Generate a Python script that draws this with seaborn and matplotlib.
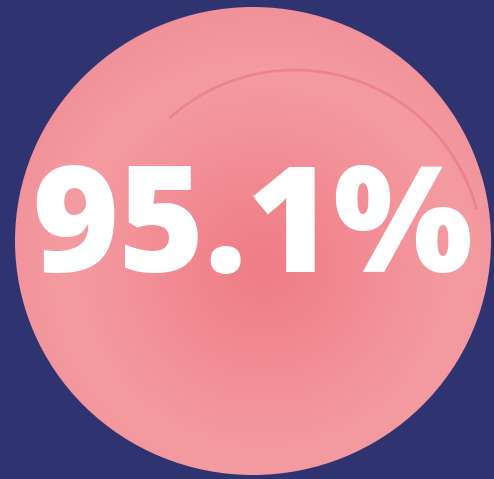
import matplotlib.pyplot as plt
import matplotlib.patches as mpatches
import numpy as np
import seaborn as sns

# the one figure shown on the card
values = [95.1]
labels = ['{:.1f}%'.format(v) for v in values]

sns.set_theme(style='white')
plt.rcParams['font.family'] = ['Open Sans', 'DejaVu Sans']

bg = '#2f3470'
fig = plt.figure(figsize=(4.94, 4.79), dpi=100, facecolor=bg)
ax = fig.add_axes([0, 0, 1, 1])
ax.set_facecolor(bg)
ax.set_xlim(0, 494)
ax.set_ylim(479, 0)
ax.set_axis_off()

# watercolour disc: soft radial blend of pinks clipped to a circle
cx, cy, rx, ry = 253, 241, 238, 234
cmap = sns.blend_palette(['#ef7c86', '#f1868e', '#f39199', '#f49ca1', '#f1929a'], as_cmap=True)
yy, xx = np.mgrid[0:479, 0:494]
rr = np.sqrt(((xx - cx - 10) / rx) ** 2 + ((yy - cy - 25) / ry) ** 2)
img = ax.imshow(rr, cmap=cmap, vmin=0, vmax=1.1, extent=(0, 494, 479, 0),
                interpolation='bilinear', zorder=1)
disc = mpatches.Ellipse((cx, cy), 2 * rx, 2 * ry, facecolor='none', edgecolor='none')
ax.add_patch(disc)
img.set_clip_path(disc)

# darker stain along the dried edge of the wash, top right
rim = mpatches.Arc((295, 258), 2 * 188, 2 * 188, theta1=228, theta2=345,
                   color='#e66a76', lw=2, alpha=0.45, zorder=2)
ax.add_patch(rim)
rim.set_clip_path(disc)

ax.text(cx, 233, labels[0], color='white', fontsize=106, fontweight='heavy',
        ha='center', va='center', zorder=3)

fig.savefig('out.png', dpi=100, facecolor=bg)
